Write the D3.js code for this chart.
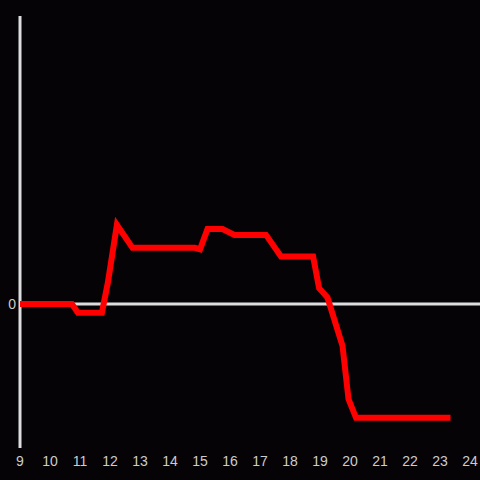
<!DOCTYPE html>
<html>
<head>
<meta charset="utf-8">
<script src="https://cdn.jsdelivr.net/npm/d3@7"></script>
<style>
  html, body { margin: 0; padding: 0; background: #050306; }
  svg { display: block; }
</style>
</head>
<body>
<div id="chart"></div>
<script>
// hour of day and value (arbitrary units, 0 = baseline)
const hours = [9, 10.73, 10.93, 11.73, 11.93, 12.23, 12.75, 14.83, 15.0, 15.25, 15.75, 16.15, 17.2, 17.7, 18.77, 18.97, 19.25, 19.75, 19.95, 20.2, 23.35];
const values = [0, 0, -0.06, -0.06, 0.15, 0.55, 0.39, 0.39, 0.38, 0.52, 0.52, 0.48, 0.48, 0.33, 0.33, 0.11, 0.045, -0.29, -0.66, -0.79, -0.79];
const xTicks = [9, 10, 11, 12, 13, 14, 15, 16, 17, 18, 19, 20, 21, 22, 23, 24];
const yTicks = [0];

const width = 480, height = 480;
const x = d3.scaleLinear().domain([9, 24]).range([20, 470]);
const y = d3.scaleLinear().domain([-1, 2]).range([448, 16]);

const svg = d3.select('#chart').append('svg')
  .attr('width', width)
  .attr('height', height);

svg.append('rect')
  .attr('width', width).attr('height', height)
  .attr('fill', '#050306');

// zero line
svg.append('line')
  .attr('x1', x(9)).attr('x2', width)
  .attr('y1', y(0)).attr('y2', y(0))
  .attr('stroke', '#dddddd')
  .attr('stroke-width', 3);

// y axis line
svg.append('line')
  .attr('x1', x(9)).attr('x2', x(9))
  .attr('y1', y(2)).attr('y2', y(-1))
  .attr('stroke', '#dddddd')
  .attr('stroke-width', 3);

// tick labels
svg.append('g')
  .selectAll('text')
  .data(xTicks)
  .join('text')
  .attr('x', d => x(d))
  .attr('y', 466)
  .attr('text-anchor', 'middle')
  .attr('font-family', 'Liberation Sans, Arial, sans-serif')
  .attr('font-size', 14)
  .attr('fill', '#cccccc')
  .text(d => d);

svg.append('g')
  .selectAll('text')
  .data(yTicks)
  .join('text')
  .attr('x', 16)
  .attr('y', d => y(d) + 5)
  .attr('text-anchor', 'end')
  .attr('font-family', 'Liberation Sans, Arial, sans-serif')
  .attr('font-size', 14)
  .attr('fill', '#cccccc')
  .text(d => d);

const line = d3.line()
  .x((d, i) => x(hours[i]))
  .y(d => y(d));

svg.append('path')
  .datum(values)
  .attr('fill', 'none')
  .attr('stroke', '#ff0000')
  .attr('stroke-width', 6)
  .attr('stroke-linejoin', 'miter')
  .attr('d', line);
</script>
</body>
</html>
